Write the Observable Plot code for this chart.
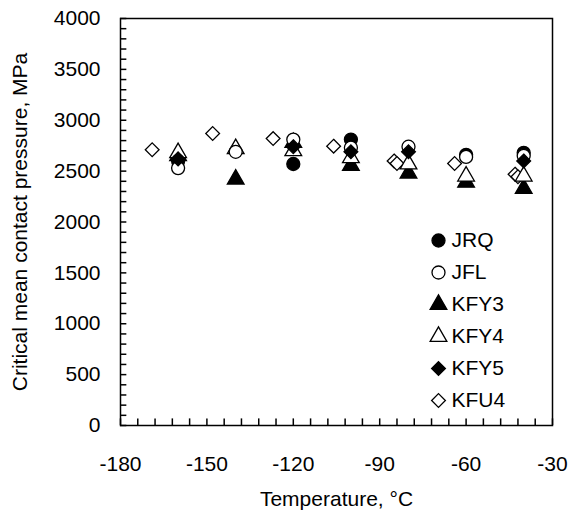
<!DOCTYPE html>
<html><head><meta charset="utf-8">
<script src="https://cdn.jsdelivr.net/npm/d3@7"></script>
<script src="https://cdn.jsdelivr.net/npm/@observablehq/plot@0.6"></script>
<style>body{margin:0;background:#fff} #chart svg{font-family:"Liberation Sans",Arial,sans-serif}</style>
</head><body><div id="chart"></div>
<script>
// ---- data ----
const seriesNames = ["JRQ", "JFL", "KFY3", "KFY4", "KFY5", "KFU4"];
const jrqTemp = [-160, -120, -100, -60, -40];
const jrqPress = [2600, 2570, 2810, 2660, 2680];
const jflTemp = [-160, -140, -120, -100, -80, -60, -40];
const jflPress = [2530, 2690, 2810, 2730, 2740, 2640, 2650];
const kfy3Temp = [-160, -140, -120, -100, -80, -60, -40];
const kfy3Press = [2650, 2420, 2780, 2555, 2480, 2390, 2330];
const kfy4Temp = [-160, -140, -120, -100, -80, -60, -40];
const kfy4Press = [2680, 2720, 2700, 2630, 2570, 2450, 2450];
const kfy5Temp = [-160, -120, -100, -80, -40];
const kfy5Press = [2620, 2740, 2690, 2690, 2600];
const kfu4Temp = [-169, -148, -127, -106, -85, -84, -64, -43, -42];
const kfu4Press = [2710, 2870, 2820, 2745, 2600, 2575, 2575, 2470, 2445];
const xTickLabels = [-180, -150, -120, -90, -60, -30];
const yTickLabels = [0, 500, 1000, 1500, 2000, 2500, 3000, 3500, 4000];
const xMinorTicks = d3.range(-180, -29, 6);
const yMinorTicks = d3.range(0, 4001, 100);

const toRows = (T, P) => T.map((t, i) => ({t, p: P[i]}));
const series = {
  JRQ:  {rows: toRows(jrqTemp, jrqPress),  symbol: d3.symbolCircle,   fill: "black", r: 6.5},
  JFL:  {rows: toRows(jflTemp, jflPress),  symbol: d3.symbolCircle,   fill: "white", r: 6.5},
  KFY3: {rows: toRows(kfy3Temp, kfy3Press), symbol: d3.symbolTriangle, fill: "black", r: 6.2},
  KFY4: {rows: toRows(kfy4Temp, kfy4Press), symbol: d3.symbolTriangle, fill: "white", r: 6.2},
  KFY5: {rows: toRows(kfy5Temp, kfy5Press), symbol: d3.symbolDiamond2, fill: "black", r: 6.2},
  KFU4: {rows: toRows(kfu4Temp, kfu4Press), symbol: d3.symbolDiamond2, fill: "white", r: 6.2}
};
const drawOrder = ["KFU4", "KFY3", "KFY4", "JRQ", "JFL", "KFY5"];

const marks = [
  // inward minor ticks along the bottom and left edges
  Plot.ruleX(xMinorTicks, {x: d => d, y1: 0, y2: 65, stroke: "black", strokeWidth: 1.5}),
  Plot.ruleY(yMinorTicks, {y: d => d, x1: -180, x2: -177.8, stroke: "black", strokeWidth: 1.5}),
  // labelled axes
  Plot.axisX({ticks: xTickLabels, tickSize: 0, tickPadding: 31, tickFormat: d => String(d),
    fontSize: 21, label: "Temperature, °C", labelAnchor: "center", labelOffset: 80, labelArrow: "none"}),
  Plot.axisY({ticks: yTickLabels, tickSize: 0, tickPadding: 20, tickFormat: d => String(d),
    fontSize: 21, label: "Critical mean contact pressure, MPa", labelAnchor: "center", labelOffset: 108, labelArrow: "none"}),
  Plot.frame({stroke: "black", strokeWidth: 1.5})
];
for (const name of drawOrder) {
  const s = series[name];
  marks.push(Plot.dot(s.rows, {x: "t", y: "p", symbol: s.symbol, r: s.r, fill: s.fill, stroke: "black", strokeWidth: 1.3}));
}
// legend inside the frame (top-right anchored offsets)
seriesNames.forEach((name, i) => {
  const s = series[name];
  const dy = 222 + i * 32;
  marks.push(Plot.dot([name], {frameAnchor: "top-right", dx: -114, dy, symbol: s.symbol, r: s.r, fill: s.fill, stroke: "black", strokeWidth: 1.3}));
  marks.push(Plot.text([name], {frameAnchor: "top-right", dx: -101, dy, text: d => d, textAnchor: "start", lineAnchor: "middle", fontSize: 21, fill: "black"}));
});

const chart = Plot.plot({
  width: 568, height: 516,
  marginLeft: 120, marginRight: 16, marginTop: 18, marginBottom: 91,
  x: {domain: [-180, -30]},
  y: {domain: [0, 4000]},
  style: {fontFamily: "Liberation Sans, Arial, sans-serif", fontSize: "21px", color: "black", background: "white"},
  marks
});
document.getElementById("chart").append(chart);
</script>
</body></html>
